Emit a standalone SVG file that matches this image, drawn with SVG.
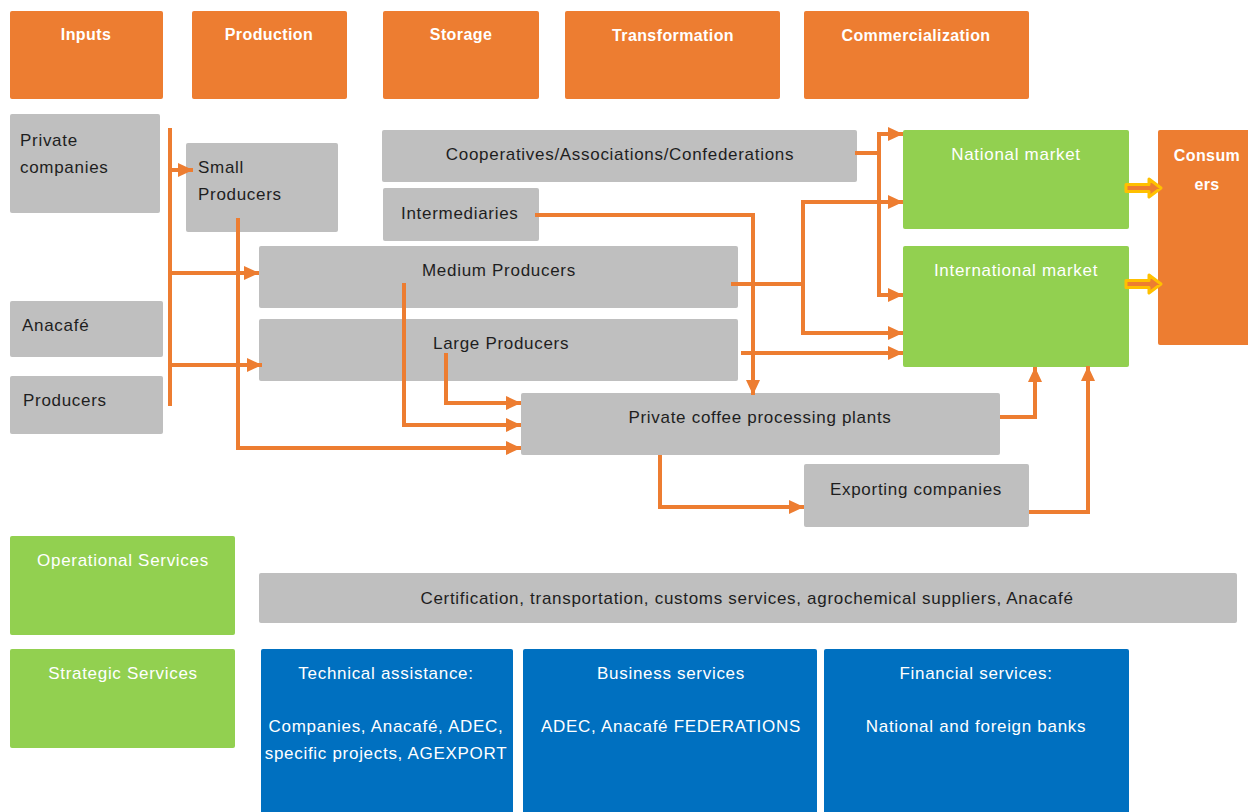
<svg xmlns="http://www.w3.org/2000/svg" width="1248" height="812" viewBox="0 0 1248 812">
  <style>
    text { font-family: "Liberation Sans", Arial, sans-serif; font-size: 17px; letter-spacing: 0.7px; }
    .hdr { fill: #ED7D31; }
    .gry { fill: #BFBFBF; }
    .grn { fill: #92D050; }
    .blu { fill: #0070C0; }
    .th { fill: #FFFFFF; font-weight: bold; text-anchor: middle; font-size: 16px; letter-spacing: 0.4px; }
    .tw { fill: #FFFFFF; text-anchor: middle; }
    .tk { fill: #1E1E1E; }
    .tkc { fill: #1E1E1E; text-anchor: middle; }
    .conn path { fill: none; stroke: #ED7D31; stroke-width: 4; }
    .conn path.yarrow { fill: #ED7D31; stroke: #FFC000; stroke-width: 3; stroke-linejoin: round; }
  </style>
  <defs>
    <marker id="ah" markerWidth="16" markerHeight="16" refX="15" refY="8" orient="auto" markerUnits="userSpaceOnUse">
      <path d="M0,1 L15,8 L0,15 z" fill="#ED7D31"/>
    </marker>
  </defs>

  <rect width="1248" height="812" fill="#FFFFFF"/>

  <!-- Value chain stage headers -->
  <g id="hdr-inputs"><rect class="hdr" x="10" y="11" width="153" height="88" rx="2"/><text class="th" x="86" y="40">Inputs</text></g>
  <g id="hdr-production"><rect class="hdr" x="192" y="11" width="155" height="88" rx="2"/><text class="th" x="269" y="40">Production</text></g>
  <g id="hdr-storage"><rect class="hdr" x="383" y="11" width="156" height="88" rx="2"/><text class="th" x="461" y="40">Storage</text></g>
  <g id="hdr-transformation"><rect class="hdr" x="565" y="11" width="215" height="88" rx="2"/><text class="th" x="673" y="41">Transformation</text></g>
  <g id="hdr-commercialization"><rect class="hdr" x="804" y="11" width="225" height="88" rx="2"/><text class="th" x="916" y="41">Commercialization</text></g>

  <!-- Actors -->
  <g id="private-companies"><rect class="gry" x="10" y="114" width="150" height="99" rx="2"/><text class="tk" x="20" y="146">Private</text><text class="tk" x="20" y="173">companies</text></g>
  <g id="small-producers"><rect class="gry" x="186" y="143" width="152" height="89" rx="2"/><text class="tk" x="198" y="173">Small</text><text class="tk" x="198" y="200">Producers</text></g>
  <g id="anacafe"><rect class="gry" x="10" y="301" width="153" height="56" rx="2"/><text class="tk" x="22" y="331">Anacafé</text></g>
  <g id="producers"><rect class="gry" x="10" y="376" width="153" height="58" rx="2"/><text class="tk" x="23" y="406">Producers</text></g>
  <g id="cooperatives"><rect class="gry" x="382" y="130" width="475" height="52" rx="2"/><text class="tkc" x="620" y="160">Cooperatives/Associations/Confederations</text></g>
  <g id="intermediaries"><rect class="gry" x="383" y="188" width="156" height="53" rx="2"/><text class="tk" x="401" y="219">Intermediaries</text></g>
  <g id="medium-producers"><rect class="gry" x="259" y="246" width="479" height="62" rx="2"/><text class="tk" x="422" y="276">Medium Producers</text></g>
  <g id="large-producers"><rect class="gry" x="259" y="319" width="479" height="62" rx="2"/><text class="tk" x="433" y="349">Large Producers</text></g>
  <g id="processing-plants"><rect class="gry" x="521" y="393" width="479" height="62" rx="2"/><text class="tkc" x="760" y="423">Private coffee processing plants</text></g>
  <g id="exporting-companies"><rect class="gry" x="804" y="464" width="225" height="63" rx="2"/><text class="tkc" x="916" y="495">Exporting companies</text></g>

  <!-- Markets and consumers -->
  <g id="national-market"><rect class="grn" x="903" y="130" width="226" height="99" rx="2"/><text class="tw" x="1016" y="160">National market</text></g>
  <g id="international-market"><rect class="grn" x="903" y="246" width="226" height="121" rx="2"/><text class="tw" x="1016" y="276">International market</text></g>
  <g id="consumers"><rect class="hdr" x="1158" y="130" width="92" height="215" rx="2"/><text class="th" x="1207" y="161">Consum</text><text class="th" x="1207" y="190">ers</text></g>

  <!-- Services -->
  <g id="operational-services"><rect class="grn" x="10" y="536" width="225" height="99" rx="2"/><text class="tw" x="123" y="566">Operational Services</text></g>
  <g id="operational-providers"><rect class="gry" x="259" y="573" width="978" height="50" rx="2"/><text class="tkc" x="747" y="604">Certification, transportation, customs services, agrochemical suppliers, Anacafé</text></g>
  <g id="strategic-services"><rect class="grn" x="10" y="649" width="225" height="99" rx="2"/><text class="tw" x="123" y="679">Strategic Services</text></g>
  <g id="technical-assistance"><rect class="blu" x="261" y="649" width="252" height="170" rx="2"/><text class="tw" x="386" y="679">Technical assistance:</text><text class="tw" x="386" y="732">Companies, Anacafé, ADEC,</text><text class="tw" x="386" y="759">specific projects, AGEXPORT</text></g>
  <g id="business-services"><rect class="blu" x="523" y="649" width="294" height="170" rx="2"/><text class="tw" x="671" y="679">Business services</text><text class="tw" x="671" y="732">ADEC, Anacafé FEDERATIONS</text></g>
  <g id="financial-services"><rect class="blu" x="824" y="649" width="305" height="170" rx="2"/><text class="tw" x="976" y="679">Financial services:</text><text class="tw" x="976" y="732">National and foreign banks</text></g>

  <!-- Flows -->
  <g class="conn" id="connectors">
    <path d="M170,128 V406"/>
    <path d="M170,170 H193" marker-end="url(#ah)"/>
    <path d="M170,273 H259" marker-end="url(#ah)"/>
    <path d="M170,365 H262" marker-end="url(#ah)"/>
    <path d="M238,218 V448 H521" marker-end="url(#ah)"/>
    <path d="M404,283 V425 H521" marker-end="url(#ah)"/>
    <path d="M446,353 V403 H521" marker-end="url(#ah)"/>
    <path d="M535,215 H753 V395" marker-end="url(#ah)"/>
    <path d="M855,153 H879"/>
    <path d="M879,134 H903" marker-end="url(#ah)"/>
    <path d="M879,132 V295 H903" marker-end="url(#ah)"/>
    <path d="M731,284 H803"/>
    <path d="M803,202 H903" marker-end="url(#ah)"/>
    <path d="M803,200 V333 H903" marker-end="url(#ah)"/>
    <path d="M741,353 H903" marker-end="url(#ah)"/>
    <path d="M1000,417 H1035 V367" marker-end="url(#ah)"/>
    <path d="M1029,512 H1088 V366" marker-end="url(#ah)"/>
    <path d="M660,455 V507 H804" marker-end="url(#ah)"/>
    <path class="yarrow" d="M1126,184.5 H1149 V179 L1161,188 L1149,197 V191.5 H1126 z"/>
    <path class="yarrow" d="M1126,280.5 H1149 V275 L1161,284 L1149,293 V287.5 H1126 z"/>
  </g>
</svg>
